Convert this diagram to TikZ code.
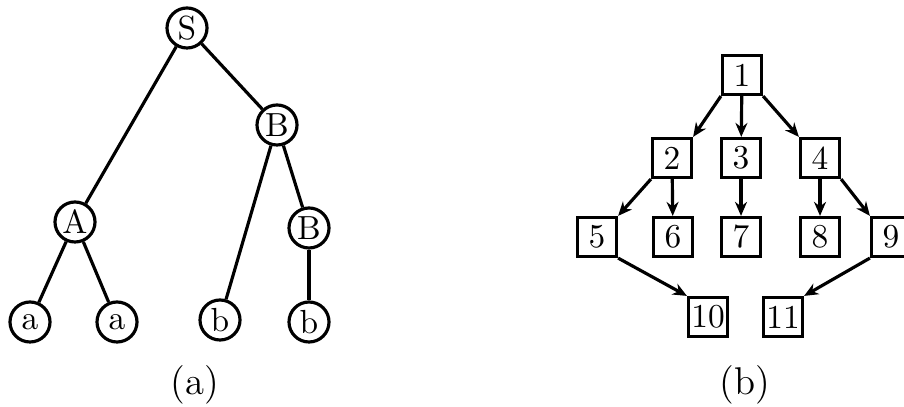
\documentclass[tikz,border=0pt]{standalone}
\usetikzlibrary{arrows.meta}

\begin{document}
\begin{tikzpicture}[x=0.01cm,y=-0.01cm,line width=0.9pt,
  every node/.style={font=\fontsize{9.5}{11}\selectfont},
  vtx/.style={circle,draw,line width=0.9pt,inner sep=0pt,minimum size=4mm},
  blk/.style={rectangle,draw,line width=0.9pt,inner sep=0pt,minimum width=3.9mm,minimum height=3.9mm},
  captxt/.style={font=\fontsize{11}{13}\selectfont},
  arr/.style={-{Stealth[length=1.4mm,width=1.2mm]}}]
  \useasboundingbox (0,0) rectangle (904,407);
  % (a) derivation tree
  \node[vtx] (s) at (187,28) {S};
  \node[vtx] (b) at (277,125) {B};
  \node[vtx] (a) at (75,222) {A};
  \node[vtx] (bb) at (309,228) {B};
  \node[vtx] (aa1) at (30,322) {a};
  \node[vtx] (aa2) at (117,322) {a};
  \node[vtx] (b1) at (220,320) {b};
  \node[vtx] (b2) at (309,322) {b};
  \draw (s)--(a); \draw (s)--(b);
  \draw (a)--(aa1); \draw (a)--(aa2);
  \draw (b)--(b1); \draw (b)--(bb); \draw (bb)--(b2);
  \node[captxt] (capa) at (195,385) {(a)};
  % (b) flow graph
  \node[blk] (n1) at (742,75) {1};
  \node[blk] (n2) at (672,158) {2};
  \node[blk] (n3) at (741,158) {3};
  \node[blk] (n4) at (820,158) {4};
  \node[blk] (n5) at (597,237) {5};
  \node[blk] (n6) at (673,237) {6};
  \node[blk] (n7) at (741,237) {7};
  \node[blk] (n8) at (820,237) {8};
  \node[blk] (n9) at (891,237) {9};
  \node[blk] (n10) at (708,317) {10};
  \node[blk] (n11) at (783,317) {11};
  \draw[arr] (n1.south west)--(n2.north east);
  \draw[arr] (n1)--(n3);
  \draw[arr] (n1.south east)--(n4.north west);
  \draw[arr] (n2.south west)--(n5.north east);
  \draw[arr] (n2)--(n6);
  \draw[arr] (n3)--(n7);
  \draw[arr] (n4)--(n8);
  \draw[arr] (n4.south east)--(n9.north west);
  \draw[arr] (n5.south east)--(n10.north west);
  \draw[arr] (n9.south west)--(n11.north east);
  \node[captxt] (capb) at (745,385) {(b)};
\end{tikzpicture}
\end{document}
